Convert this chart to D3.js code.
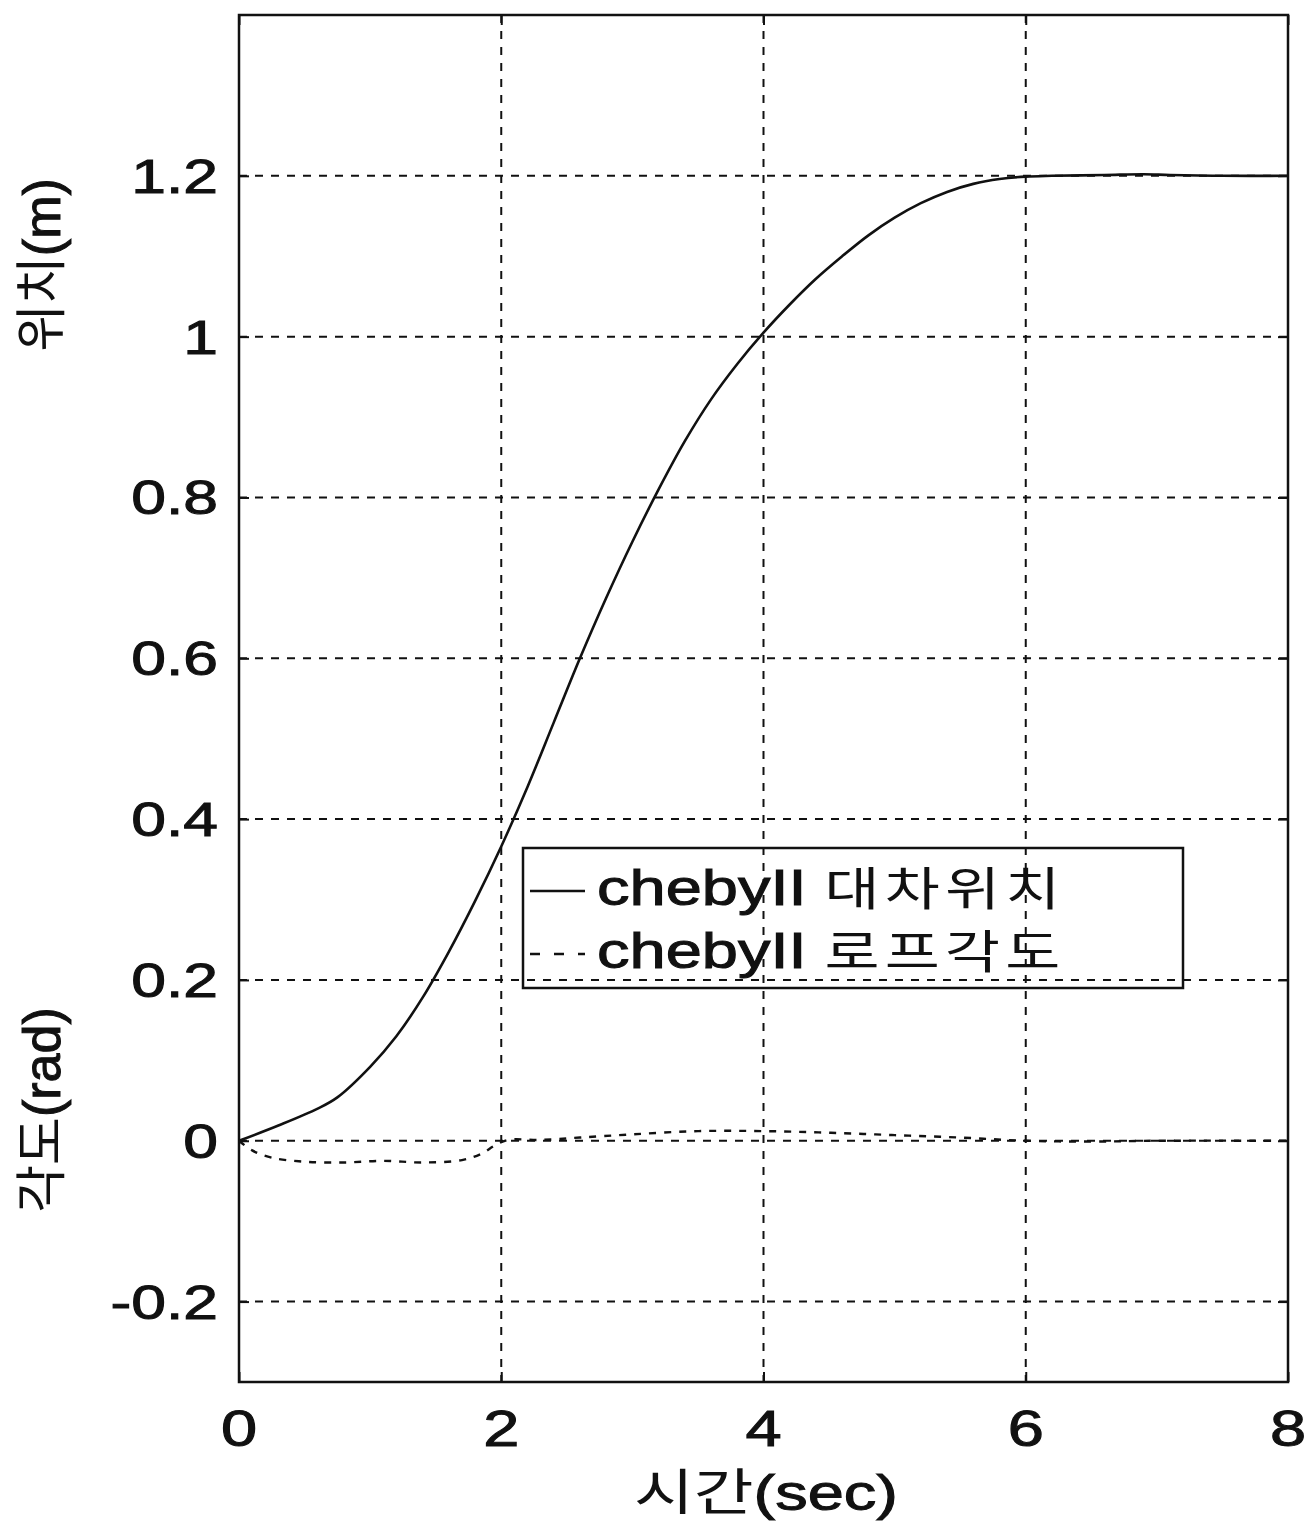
<!DOCTYPE html>
<html>
<head>
<meta charset="utf-8">
<script src="https://cdn.jsdelivr.net/npm/d3@7"></script>
<style>
  html, body { margin: 0; padding: 0; background: #fff; }
  svg { display: block; }
  text { font-family: "Liberation Sans", Arial, "Noto Sans CJK KR", sans-serif; fill: #111; }
  .heavy { stroke: #111; stroke-width: 1px; }
  .kr { font-family: "Noto Sans CJK KR", "Liberation Sans", sans-serif; stroke: none; }
</style>
</head>
<body>
<script>
// Cart position (m) over time (sec)
const posTime = [0, 0.3, 0.6, 0.75, 1.0, 1.2, 1.4, 1.6, 1.8, 2.0, 2.2, 2.4, 2.6, 2.8, 3.0, 3.2, 3.4, 3.6, 3.8, 4.0,
                 4.2, 4.4, 4.6, 4.8, 5.0, 5.2, 5.4, 5.6, 5.8, 6.0, 6.2, 6.6, 6.9, 7.1, 7.5, 8.0];
const cartPos = [0, 0.019, 0.04, 0.054, 0.092, 0.13, 0.178, 0.235, 0.298, 0.366, 0.44, 0.52, 0.6, 0.675, 0.745, 0.81, 0.87, 0.922, 0.966, 1.005,
                 1.04, 1.072, 1.10, 1.126, 1.148, 1.166, 1.18, 1.19, 1.196, 1.199, 1.2, 1.201, 1.202, 1.201, 1.2, 1.2];

// Rope angle (rad) over time (sec)
const angTime = [0, 0.1, 0.25, 0.5, 0.8, 1.1, 1.4, 1.7, 1.85, 1.95, 2.05, 2.3, 2.6, 3.0, 3.5, 4.0, 4.5, 5.0, 5.5, 6.0, 6.5, 7.0, 8.0];
const ropeAngle = [0, -0.012, -0.021, -0.026, -0.027, -0.025, -0.027, -0.024, -0.016, -0.006, 0.001, 0.001, 0.004, 0.008, 0.012, 0.012, 0.01, 0.007, 0.004, 0.0, -0.001, 0, 0];

const xTicks = [0, 2, 4, 6, 8];
const yTicks = [-0.2, 0, 0.2, 0.4, 0.6, 0.8, 1, 1.2];
const legendLatin = ["chebyII", "chebyII"];
const legendKorean = ["대차위치", "로프각도"];

const W = 1305, H = 1529;
const L = 239, R = 1288, T = 15, B = 1382;

const svg = d3.select("body").append("svg").attr("width", W).attr("height", H);

const x = d3.scaleLinear().domain([0, 8]).range([L, R]);
const y = d3.scaleLinear().domain([-0.3, 1.4]).range([B, T]);

// dotted grid
const grid = svg.append("g").attr("stroke", "#111").attr("stroke-width", 2).attr("stroke-dasharray", "8,8");
grid.selectAll("line.v").data(xTicks.filter(d => d > 0 && d < 8)).join("line")
  .attr("x1", d => x(d)).attr("x2", d => x(d)).attr("y1", T).attr("y2", B);
grid.selectAll("line.h").data(yTicks).join("line")
  .attr("x1", L).attr("x2", R).attr("y1", d => y(d)).attr("y2", d => y(d));

// axes with inward ticks on all four sides
const tickLen = 10;
const axisB = svg.append("g").attr("transform", `translate(0,${B})`)
  .call(d3.axisBottom(x).tickValues(xTicks).tickSizeInner(-tickLen).tickSizeOuter(0).tickFormat(""));
const axisT = svg.append("g").attr("transform", `translate(0,${T})`)
  .call(d3.axisTop(x).tickValues(xTicks).tickSizeInner(-tickLen).tickSizeOuter(0).tickFormat(""));
const axisL = svg.append("g").attr("transform", `translate(${L},0)`)
  .call(d3.axisLeft(y).tickValues(yTicks).tickSizeInner(-tickLen).tickSizeOuter(0).tickFormat(""));
const axisR = svg.append("g").attr("transform", `translate(${R},0)`)
  .call(d3.axisRight(y).tickValues(yTicks).tickSizeInner(-tickLen).tickSizeOuter(0).tickFormat(""));
[axisB, axisT, axisL, axisR].forEach(g => {
  g.select(".domain").remove();
  g.selectAll("line").attr("stroke", "#111").attr("stroke-width", 2);
});

// plot box
svg.append("rect").attr("x", L).attr("y", T).attr("width", R - L).attr("height", B - T)
  .attr("fill", "none").attr("stroke", "#111").attr("stroke-width", 2.5);

// tick labels (wide glyphs)
const sx = 1.3;
svg.append("g").selectAll("text").data(yTicks).join("text").attr("class", "heavy")
  .attr("transform", d => `translate(218,${y(d) + 17}) scale(${sx},1)`)
  .attr("text-anchor", "end").attr("font-size", 48)
  .text(d => d3.format("")(d).replace("−", "-"));
svg.append("g").selectAll("text").data(xTicks).join("text").attr("class", "heavy")
  .attr("transform", d => `translate(${x(d)},1446) scale(${sx},1)`)
  .attr("text-anchor", "middle").attr("font-size", 50)
  .text(d => d);

// axis titles
const xTitle = svg.append("text").attr("transform", `translate(766,1510) scale(${sx},1)`)
  .attr("text-anchor", "middle").attr("font-size", 50);
xTitle.append("tspan").attr("class", "kr").text("시간");
xTitle.append("tspan").attr("class", "heavy").text("(sec)");

const yTitles = [["위치", "(m)", 265], ["각도", "(rad)", 1110]];
yTitles.forEach(([kr, unit, cy]) => {
  const t = svg.append("text").attr("transform", `translate(60,${cy}) rotate(-90)`)
    .attr("text-anchor", "middle").attr("font-size", 52);
  t.append("tspan").attr("class", "kr").text(kr);
  t.append("tspan").attr("class", "heavy").attr("stroke-width", 0.6).text(unit);
});

// data lines
const line = d3.line().x(d => x(d[0])).y(d => y(d[1])).curve(d3.curveCatmullRom);
svg.append("path").datum(posTime.map((t, i) => [t, cartPos[i]]))
  .attr("d", line).attr("fill", "none").attr("stroke", "#111").attr("stroke-width", 2.6);
svg.append("path").datum(angTime.map((t, i) => [t, ropeAngle[i]]))
  .attr("d", line).attr("fill", "none").attr("stroke", "#111").attr("stroke-width", 2.4)
  .attr("stroke-dasharray", "7,8");

// legend (transparent box)
const lg = svg.append("g");
lg.append("rect").attr("x", 523).attr("y", 848).attr("width", 660).attr("height", 140)
  .attr("fill", "none").attr("stroke", "#111").attr("stroke-width", 2.5);
const rowBase = [905, 968];
lg.append("line").attr("x1", 530).attr("x2", 585).attr("y1", rowBase[0] - 14).attr("y2", rowBase[0] - 14)
  .attr("stroke", "#111").attr("stroke-width", 2.5);
lg.append("line").attr("x1", 530).attr("x2", 585).attr("y1", rowBase[1] - 14).attr("y2", rowBase[1] - 14)
  .attr("stroke", "#111").attr("stroke-width", 2.5).attr("stroke-dasharray", "10,14");
legendLatin.forEach((lat, i) => {
  const t = lg.append("text")
    .attr("transform", `translate(597,${rowBase[i]}) scale(1.3,1)`)
    .attr("font-size", 50);
  t.append("tspan").attr("class", "heavy").text(lat + " ");
  t.append("tspan").attr("class", "kr").attr("font-size", 46).attr("letter-spacing", 4).text(legendKorean[i]);
});
</script>
</body>
</html>
